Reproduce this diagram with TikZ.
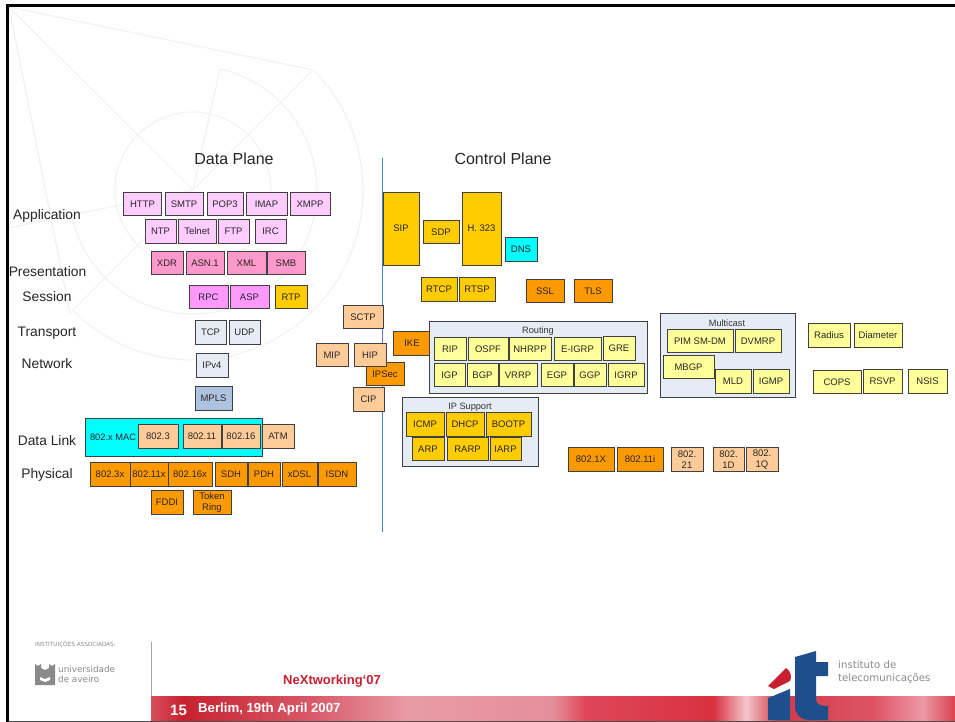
\documentclass[tikz,border=0pt]{standalone}
\usepackage{fontspec}
\setmainfont{Liberation Sans}
\newfontfamily\logofont{DejaVu Sans}
\usepackage{tikz}
\definecolor{AppPink}{HTML}{FFCCFF}
\definecolor{PresPink}{HTML}{FF99CC}
\definecolor{SessPink}{HTML}{FF99FF}
\definecolor{Gold}{HTML}{FFCC00}
\definecolor{Pale}{HTML}{E6ECF6}
\definecolor{Steel}{HTML}{AEC3E0}
\definecolor{Peach}{HTML}{FFCC99}
\definecolor{Orange}{HTML}{FF9900}
\definecolor{Lemon}{HTML}{FFFF99}
\definecolor{Aqua}{HTML}{00FFFF}
\definecolor{Mark}{HTML}{F1F1F1}
\definecolor{Divider}{HTML}{4F7FC9}
\definecolor{ItRed}{HTML}{C8202F}
\definecolor{ItBlue}{HTML}{1F4E8C}
\definecolor{LogoGray}{HTML}{8A8A8A}
\pgfdeclarehorizontalshading{FooterBand}{100bp}{
	rgb(0bp)=(0.85,0.31,0.37);
	rgb(25bp)=(0.85,0.31,0.37);
	rgb(27bp)=(0.78,0.13,0.18);
	rgb(35bp)=(0.85,0.35,0.41);
	rgb(41bp)=(0.91,0.61,0.65);
	rgb(50bp)=(0.90,0.56,0.61);
	rgb(52bp)=(0.87,0.28,0.35);
	rgb(60bp)=(0.85,0.19,0.25);
	rgb(62bp)=(0.95,0.78,0.80);
	rgb(64bp)=(0.82,0.23,0.28);
	rgb(70bp)=(0.87,0.33,0.40);
	rgb(73bp)=(0.93,0.60,0.65);
	rgb(75bp)=(0.85,0.25,0.31);
	rgb(100bp)=(0.85,0.25,0.31)}

\begin{document}
\begin{tikzpicture}[x=1pt,y=-1pt]
	\tikzset{Box/.style={draw=black!75, line width=0.9pt, minimum width=#1, minimum height=23.5pt, inner sep=0pt, align=center, text=black!85, font=\fontsize{9.5}{11}\selectfont}}
	\tikzstyle{App}		= [fill=AppPink]
	\tikzstyle{Pres}	= [fill=PresPink]
	\tikzstyle{Sess}	= [fill=SessPink]
	\tikzstyle{RT}		= [fill=Gold]
	\tikzstyle{PL}		= [fill=Pale]
	\tikzstyle{SL}		= [fill=Steel]
	\tikzstyle{PE}		= [fill=Peach]
	\tikzstyle{OR}		= [fill=Orange]
	\tikzstyle{YE}		= [fill=Lemon]
	\tikzstyle{CY}		= [fill=Aqua]
	\tikzstyle{Layer}	= [inner sep=0pt, text=black!85, font=\fontsize{13.8}{16}\selectfont]
	\tikzstyle{Plane}	= [inner sep=0pt, text=black!85, font=\fontsize{16}{18}\selectfont]
	\tikzstyle{Group}	= [inner sep=0pt, text=black!80, font=\fontsize{9.2}{11}\selectfont]
	\tikzstyle{Mark}	= [draw=Mark, line width=1pt]

	\useasboundingbox (0,0) rectangle (955,722);
	\fill [white] (0,0) rectangle (955,722);

	% watermark
	\coordinate (c) at (193,190);
	\draw [Mark] (c) circle (78);
	\draw [Mark] (c) ++(-45:170) arc (-45:135:170);
	\draw [Mark] (c) ++(-77.4:124) arc (-77.4:168.5:124);
	\draw [Mark] (9,7) -- (313,70) -- (c) -- (9,7);
	\draw [Mark] (220,69) -- (c) -- (70,313) -- (9,7);
	\draw [Mark] (c) -- (9,228);

	% footer
	\path [shading=FooterBand] (151,696) rectangle (955,720);
	\draw [gray!70, line width=0.7pt] (151,642) -- (151,696);
	\node (inst) at (35,644.5) [anchor=west, inner sep=0pt, text=LogoGray, font=\logofont\fontsize{5.7}{6}\selectfont] {INSTITUIÇÕES ASSOCIADAS:};
	\fill [LogoGray] (35,664) -- (38,666) -- (41,664) -- (41,668) -- (45,670) -- (49,668) -- (49,664) -- (52,666) -- (55,664) -- (55,685) -- (35,685) -- cycle;
	\fill [white] (40,677) -- (45,679) -- (50,677) -- (50,680) -- (45,682) -- (40,680) -- cycle;
	\node (ua) at (58,674) [anchor=west, inner sep=0pt, align=left, text=LogoGray, font=\logofont\fontsize{8.8}{9.5}\selectfont] {universidade\\de aveiro};
	\node (conf) at (332,681) [inner sep=0pt, text=ItRed, font=\bfseries\fontsize{13}{14}\selectfont] {NeXtworking‘07};
	\node (page) at (178.5,710) [inner sep=0pt, text=white, font=\bfseries\fontsize{15}{17}\selectfont] {15};
	\node (date) at (198,709) [anchor=west, inner sep=0pt, text=white, font=\bfseries\fontsize{13.2}{16}\selectfont] {Berlim, 19th April 2007};
	\fill [ItBlue] (795,657) -- (816,651) -- (816,662) -- (828,662) -- (828,676) -- (816,676) -- (816,700) .. controls (816,705) and (822,706) .. (828,706) -- (828,720) -- (810,720) .. controls (800,720) and (795,714) .. (795,706) -- cycle;
	\fill [ItBlue] (768,698) -- (790,689) -- (790,720) -- (768,720) -- cycle;
	\fill [ItRed] (768,686) -- (786,668) .. controls (791,671) and (792,677) .. (790,681) -- (774,689) -- cycle;
	\node (it) at (838,672) [anchor=west, inner sep=0pt, align=left, text=LogoGray, font=\logofont\fontsize{10.2}{13}\selectfont] {instituto de\\telecomunicações};

	% frame
	\draw [black, line width=2.6pt] (955,5.3) -- (7.2,5.3) -- (7.2,722);
	\draw [black!70, line width=1pt] (8,721.5) -- (955,721.5);

	% titles
	\node (dplane) at (234,159) [Plane] {Data Plane};
	\node (cplane) at (503,159) [Plane] {Control Plane};
	\node (lapp) at (47,215.5) [Layer] {Application};
	\node (lpres) at (47.5,272) [Layer] {Presentation};
	\node (lsess) at (47,296.5) [Layer] {Session};
	\node (ltrans) at (47,333) [Layer] {Transport};
	\node (lnet) at (47,363.5) [Layer] {Network};
	\node (ldata) at (47,440.5) [Layer] {Data Link};
	\node (lphy) at (47,474.5) [Layer] {Physical};

	\coordinate (st) at (382,158);
	\coordinate (en) at (382,532);
	\draw [Divider, line width=0.8pt] (st) -- (en);

	% application to network
	\node (http) at (142.5,204) [Box=38pt][App] {HTTP};
	\node (smtp) at (184,204) [Box=38pt][App] {SMTP};
	\node (pop) at (225,204) [Box=36pt][App] {POP3};
	\node (imap) at (266.5,204) [Box=41pt][App] {IMAP};
	\node (xmpp) at (310,204) [Box=40pt][App] {XMPP};
	\node (ntp) at (160.5,231.5) [Box=31pt][App] {NTP};
	\node (telnet) at (197,231.5) [Box=38pt][App] {Telnet};
	\node (ftp) at (233.5,231.5) [Box=31pt][App] {FTP};
	\node (irc) at (270.5,231.5) [Box=31pt][App] {IRC};
	\node (xdr) at (167,263) [Box=32pt][Pres] {XDR};
	\node (asn) at (205,263) [Box=38pt][Pres] {ASN.1};
	\node (xml) at (246.5,263) [Box=39pt][Pres] {XML};
	\node (smb) at (286,263) [Box=38pt][Pres] {SMB};
	\node (rpc) at (208.5,297) [Box=39pt][Sess] {RPC};
	\node (asp) at (249.5,297) [Box=39pt][Sess] {ASP};
	\node (rtp) at (291,297) [Box=32pt][RT] {RTP};
	\node (tcp) at (210.5,332.5) [Box=31pt][PL] {TCP};
	\node (udp) at (244.5,332.5) [Box=31pt][PL] {UDP};
	\node (ipv) at (212,365.5) [Box=32pt][PL] {IPv4};
	\node (mpls) at (213.5,398.5) [Box=37pt][SL] {MPLS};

	% data link and physical
	\node (macbox) at (173.5,437) [Box=177pt][CY][minimum height=38pt] {};
	\node (mac) at (113,437) [inner sep=0pt, text=black!85, font=\fontsize{9.3}{11}\selectfont] {802.x MAC};
	\node (e3) at (158,436.5) [Box=40pt][PE] {802.3};
	\node (e11) at (202,436.5) [Box=38pt][PE] {802.11};
	\node (e16) at (241,436.5) [Box=38pt][PE] {802.16};
	\node (atm) at (278,436.5) [Box=32pt][PE] {ATM};
	\node (p3) at (110,474.5) [Box=40pt][OR] {802.3x};
	\node (p11) at (149,474.5) [Box=38pt][OR] {802.11x};
	\node (p16) at (190,474.5) [Box=44pt][OR] {802.16x};
	\node (sdh) at (231,474.5) [Box=32pt][OR] {SDH};
	\node (pdh) at (264,474.5) [Box=32pt][OR] {PDH};
	\node (xdsl) at (299.5,474.5) [Box=35pt][OR] {xDSL};
	\node (isdn) at (337,474.5) [Box=38pt][OR] {ISDN};
	\node (fddi) at (167,502.5) [Box=32pt][OR] {FDDI};
	\node (token) at (212,502.5) [Box=38pt][OR] {Token\\Ring};

	% across the line
	\node (sctp) at (363,317) [Box=40pt][PE] {SCTP};
	\node (mip) at (332,355) [Box=32pt][PE] {MIP};
	\node (ipsec) at (385,374) [Box=38pt][OR] {IPSec};
	\node (hip) at (370,355) [Box=32pt][PE] {HIP};
	\node (cip) at (368.5,399.5) [Box=31pt][PE] {CIP};
	\node (ike) at (412,343.5) [Box=38pt][OR] {IKE};

	% control plane
	\node (sip) at (401,228.5) [Box=36pt][RT][minimum height=73pt] {SIP};
	\node (sdp) at (441,232) [Box=36pt][RT] {SDP};
	\node (h) at (481.5,228.5) [Box=39pt][RT][minimum height=73pt] {H. 323};
	\node (dns) at (521,249.5) [Box=32pt][CY] {DNS};
	\node (rtcp) at (439,289.5) [Box=36pt][RT] {RTCP};
	\node (rtsp) at (477,289.5) [Box=36pt][RT] {RTSP};
	\node (ssl) at (545,291) [Box=38pt][OR] {SSL};
	\node (tls) at (593,291) [Box=38pt][OR] {TLS};

	% routing
	\node (rbox) at (538,357) [Box=218pt][PL][minimum height=72pt] {};
	\node (rlab) at (538,331) [Group] {Routing};
	\node (rip) at (450,349) [Box=32pt][YE] {RIP};
	\node (ospf) at (488,349) [Box=40pt][YE] {OSPF};
	\node (nhrpp) at (530,349) [Box=42pt][YE] {NHRPP};
	\node (eigrp) at (577.5,349) [Box=47pt][YE] {E-IGRP};
	\node (gre) at (619,348.5) [Box=32pt][YE] {GRE};
	\node (igp) at (449.5,375) [Box=31pt][YE] {IGP};
	\node (bgp) at (482.5,375) [Box=31pt][YE] {BGP};
	\node (vrrp) at (518,375) [Box=38pt][YE] {VRRP};
	\node (egp) at (557,375) [Box=32pt][YE] {EGP};
	\node (ggp) at (590,375) [Box=32pt][YE] {GGP};
	\node (igrp) at (626,375) [Box=36pt][YE] {IGRP};

	% ip support
	\node (sbox) at (470,431.5) [Box=136pt][PL][minimum height=69pt] {};
	\node (slab) at (470,407) [Group] {IP Support};
	\node (icmp) at (425,424.5) [Box=38pt][RT] {ICMP};
	\node (dhcp) at (465,424.5) [Box=38pt][RT] {DHCP};
	\node (bootp) at (508.5,424.5) [Box=45pt][RT] {BOOTP};
	\node (arp) at (428,449) [Box=32pt][RT] {ARP};
	\node (rarp) at (467.5,449) [Box=41pt][RT] {RARP};
	\node (iarp) at (505.5,449) [Box=31pt][RT] {IARP};

	% multicast
	\node (mbox) at (727.5,355) [Box=135pt][PL][minimum height=84pt] {};
	\node (mlab) at (727,323) [Group] {Multicast};
	\node (pim) at (700,341) [Box=66pt][YE] {PIM SM-DM};
	\node (dvmrp) at (758,341) [Box=46pt][YE] {DVMRP};
	\node (mbgp) at (688.5,367) [Box=51pt][YE] {MBGP};
	\node (mld) at (733,381.5) [Box=36pt][YE] {MLD};
	\node (igmp) at (771,381.5) [Box=36pt][YE] {IGMP};

	% the rest
	\node (radius) at (829,335.5) [Box=42pt][YE] {Radius};
	\node (diam) at (878,335.5) [Box=48pt][YE] {Diameter};
	\node (cops) at (837,382) [Box=48pt][YE] {COPS};
	\node (rsvp) at (882.5,381.5) [Box=39pt][YE] {RSVP};
	\node (nsis) at (927.5,381.5) [Box=39pt][YE] {NSIS};
	\node (x1) at (591,459.5) [Box=46pt][OR] {802.1X};
	\node (x11) at (640,459.5) [Box=46pt][OR] {802.11i};
	\node (x21) at (687,459.5) [Box=32pt][PE] {802.\\21};
	\node (x1d) at (728.5,459.5) [Box=31pt][PE] {802.\\1D};
	\node (x1q) at (762,459.5) [Box=32pt][PE] {802.\\1Q};
\end{tikzpicture}
\end{document}
